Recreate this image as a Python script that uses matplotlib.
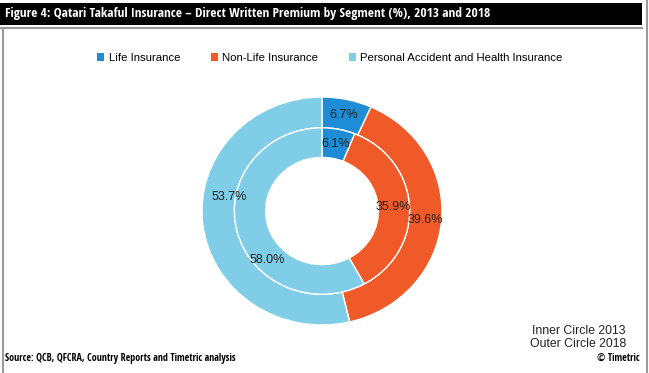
import matplotlib.pyplot as plt
from matplotlib.patches import Rectangle
from matplotlib.lines import Line2D

segments = ["Life Insurance", "Non-Life Insurance", "Personal Accident and Health Insurance"]
share_2013 = [6.1, 35.9, 58.0]   # inner circle
share_2018 = [6.7, 39.6, 53.7]   # outer circle
colors = ["#1f8dd6", "#f05a28", "#7fcde6"]

plt.rcParams['font.family'] = ['Liberation Sans', 'DejaVu Sans']
narrow = ['Open Sans Condensed', 'DejaVu Sans']

fig = plt.figure(figsize=(6.49, 3.73), dpi=100)
W, H = 649, 373

# frame: black title bar and grey borders
fig.patches.append(Rectangle((0, 1 - 25 / H), 642 / W, 22 / H, transform=fig.transFigure,
                             facecolor="black", edgecolor="none"))
fig.lines.append(Line2D([0, 642 / W], [1 - 28 / H] * 2, transform=fig.transFigure,
                        color="#999999", lw=1.5))
fig.lines.append(Line2D([2.5 / W] * 2, [0, 1 - 28 / H], transform=fig.transFigure,
                        color="#999999", lw=1.5))
fig.lines.append(Line2D([646.5 / W] * 2, [0, 1], transform=fig.transFigure,
                        color="#999999", lw=1.5))

fig.text(5 / W, 1 - 14 / H, "Figure 4: Qatari Takaful Insurance \u2013 Direct Written Premium by Segment (%), 2013 and 2018",
         color="white", fontsize=9.6, fontweight="bold", va="center", family=narrow)

# donut
ax = fig.add_axes([(322 - 120) / W, (H - 211 - 114) / H, 240 / W, 228 / H])
kw = dict(startangle=90, counterclock=False, colors=colors,
          autopct="%.1f%%", textprops=dict(fontsize=9, color="#222222"))
outer = ax.pie(share_2018, radius=1.0, pctdistance=0.865,
               wedgeprops=dict(width=0.27, edgecolor="white", linewidth=1), **kw)
inner = ax.pie(share_2013, radius=0.73, pctdistance=0.82,
               wedgeprops=dict(width=0.26, edgecolor="white", linewidth=1), **kw)
ax.set_aspect("auto")
ax.set_xlim(-1, 1)
ax.set_ylim(-1, 1)
# the personal accident labels sit a little off the wedge centres in the original
outer[2][2].set_position((-0.77, 0.12))
inner[2][2].set_position((-0.46, -0.43))

# legend
handles = [Rectangle((0, 0), 1, 1, facecolor=c) for c in colors]
fig.legend(handles, segments, loc="center", bbox_to_anchor=(330 / W, 1 - 58 / H), ncol=3,
           frameon=False, fontsize=8.2, handlelength=0.6, handleheight=0.6,
           handletextpad=0.4, columnspacing=2.7)

fig.text(626 / W, 1 - 331 / H, "Inner Circle 2013", fontsize=8.8, ha="right", va="center", color="#222222")
fig.text(626 / W, 1 - 344 / H, "Outer Circle 2018", fontsize=8.8, ha="right", va="center", color="#222222")

fig.text(5 / W, 1 - 358 / H, "Source: QCB, QFCRA, Country Reports and Timetric analysis",
         fontsize=7.2, fontweight="bold", va="center", family=narrow)
fig.text(640 / W, 1 - 358 / H, "\u00a9 Timetric", fontsize=7.2, fontweight="bold", va="center", ha="right",
         family=narrow)

fig.savefig("out.png", dpi=100)
